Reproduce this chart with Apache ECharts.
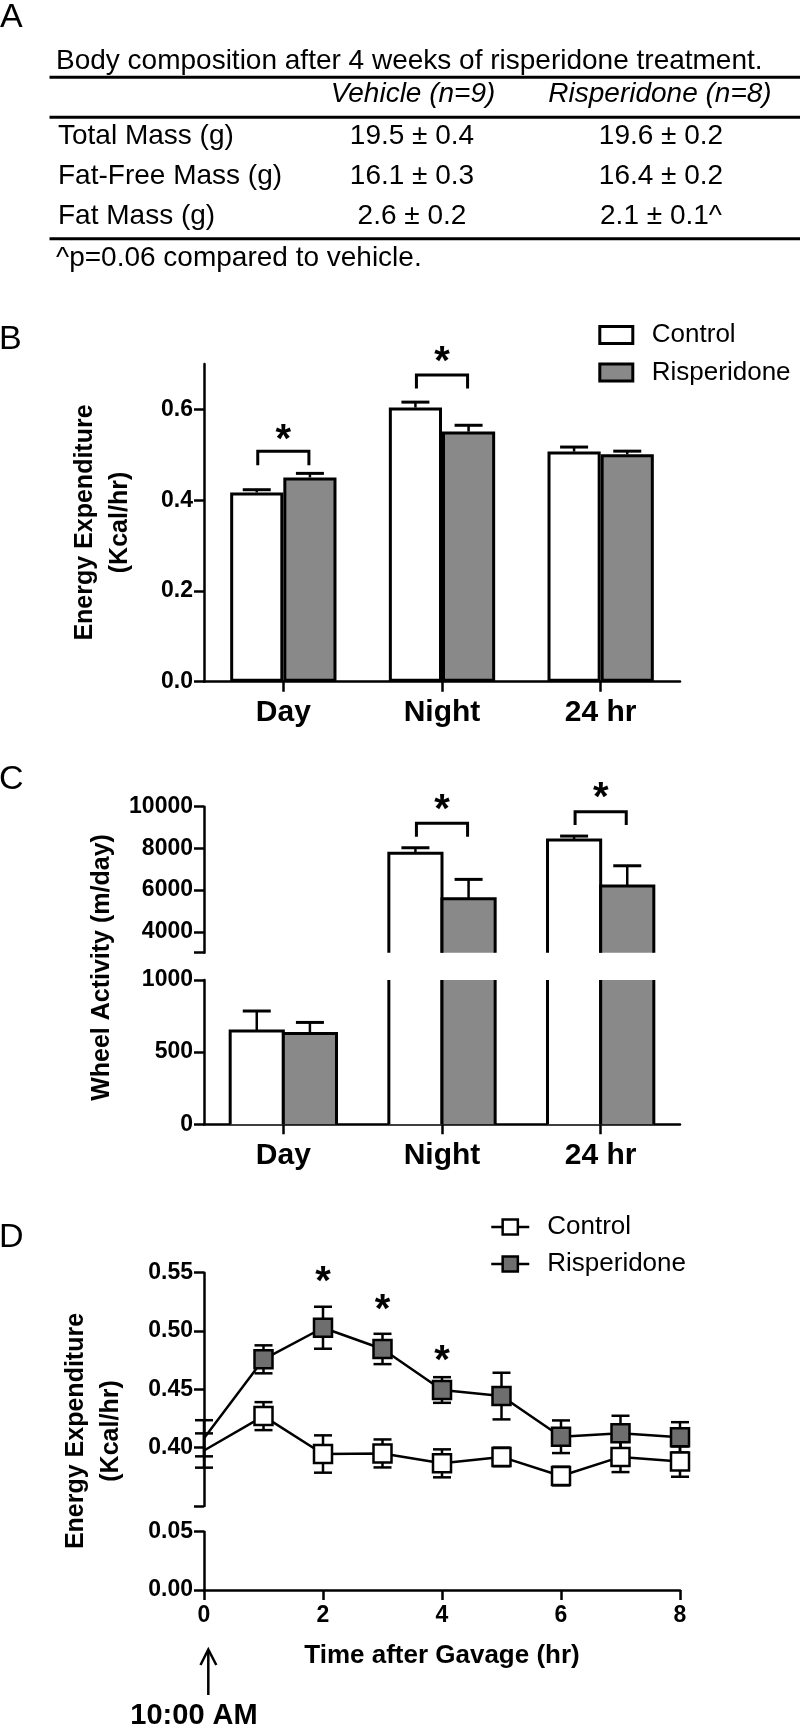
<!DOCTYPE html>
<html>
<head>
<meta charset="utf-8">
<script src="https://cdn.jsdelivr.net/npm/echarts@6/dist/echarts.min.js"></script>
<style>
html,body{margin:0;padding:0;background:#fff;}
#chart{width:800px;height:1728px;}
</style>
</head>
<body>
<div id="chart"></div>
<script>
// ---------------- Panel A: table ----------------
const tableTitle = 'Body composition after 4 weeks of risperidone treatment.';
const tableHeaders = ['Vehicle (n=9)', 'Risperidone (n=8)'];
const tableRowLabels = ['Total Mass (g)', 'Fat-Free Mass (g)', 'Fat Mass (g)'];
const tableVehicle = ['19.5 \u00b1 0.4', '16.1 \u00b1 0.3', '2.6 \u00b1 0.2'];
const tableRisperidone = ['19.6 \u00b1 0.2', '16.4 \u00b1 0.2', '2.1 \u00b1 0.1^'];
const tableFootnote = '^p=0.06 compared to vehicle.';

// ---------------- Panel B: energy expenditure bars ----------------
const periods = ['Day', 'Night', '24 hr'];
const eeControl = [0.417, 0.604, 0.507];
const eeControlSem = [0.006, 0.012, 0.010];
const eeRisp = [0.450, 0.551, 0.501];
const eeRispSem = [0.009, 0.014, 0.007];
const bTicks = [0, 0.2, 0.4, 0.6];
// [category index, bracket top, bracket leg end, asterisk]
const bSig = [[0, 0.508, 0.477, 0.547], [1, 0.6755, 0.646, 0.72]];

// ---------------- Panel C: wheel activity (broken axis) ----------------
const wheelControl = [646, 7763, 8400];
const wheelControlSem = [139, 269, 192];
const wheelRisp = [630, 5585, 6194];
const wheelRispSem = [76, 930, 974];
const cUpperLabels = [4000, 6000, 8000, 10000];
const cUpperTicks = [3000, 4000, 6000, 8000, 10000];
const cLowerTicks = [0, 500, 1000];
const cSig = [[1, 9203, 8560, 10178], [2, 9760, 9122, 10760]];

// ---------------- Panel D: time course ----------------
const hours = [0, 1, 2, 3, 4, 5, 6, 7, 8];
const dControl = [0.3975, 0.427, 0.3945, 0.395, 0.3865, 0.392, 0.3756, 0.392, 0.388];
const dControlSem = [0.0147, 0.012, 0.016, 0.012, 0.012, 0.008, 0.008, 0.013, 0.013];
const dRisp = [0.408, 0.4757, 0.5028, 0.4846, 0.4494, 0.4442, 0.4093, 0.4123, 0.4088];
const dRispSem = [0.0155, 0.012, 0.018, 0.013, 0.011, 0.020, 0.014, 0.015, 0.013];
const dUpperLabels = [0.40, 0.45, 0.50, 0.55];
const dUpperTicks = [0.35, 0.40, 0.45, 0.50, 0.55];
const dLowerTicks = [0, 0.05];
const dXTicks = [0, 2, 4, 6, 8];
const dStars = [[2, 0.548], [3, 0.5244], [4, 0.4803]];

// ---------------- styling ----------------
const FONT = '"Liberation Sans", Arial, Helvetica, sans-serif';
const BLACK = '#000';
const GRAY_BAR = '#898989';
const GRAY_SQ = '#6e6e6e';
const BAR_RATIO = 0.335;
const AXW = 2.5;

const axisLineStyle = { show: true, onZero: false, lineStyle: { color: BLACK, width: AXW } };
const tickStyle = { color: BLACK, width: AXW };
const tickLabel = { color: BLACK, fontFamily: FONT, fontWeight: 'bold', fontSize: 23, margin: 11 };

function yVal(grid, min, max, labels, ticks, fmt) {
  return {
    type: 'value', gridIndex: grid, min: min, max: max,
    axisLine: axisLineStyle,
    axisTick: { show: true, length: 10, customValues: ticks, lineStyle: tickStyle },
    axisLabel: Object.assign({}, tickLabel, { customValues: labels, formatter: fmt }),
    splitLine: { show: false }
  };
}
function xCat(grid, show) {
  return {
    type: 'category', gridIndex: grid, data: periods, boundaryGap: true, show: show,
    axisLine: axisLineStyle,
    axisTick: { show: true, alignWithLabel: true, length: 10, lineStyle: tickStyle },
    axisLabel: { color: BLACK, fontFamily: FONT, fontWeight: 'bold', fontSize: 30, margin: 16 },
    splitLine: { show: false }
  };
}

// error bar (upwards) over a bar, side -1 = left bar, +1 = right bar
function barErr(side) {
  return function (params, api) {
    const cat = api.value(0), v = api.value(1), e = api.value(2);
    const bw = api.size([1, 0])[0] * BAR_RATIO;
    const p = api.coord([cat, v]);
    const cx = p[0] + side * bw / 2;
    const y1 = api.coord([cat, v + e])[1];
    return { type: 'group', children: [
      { type: 'line', shape: { x1: cx, y1: p[1], x2: cx, y2: y1 }, style: { stroke: BLACK, lineWidth: 2.5 } },
      { type: 'line', shape: { x1: cx - 14, y1: y1, x2: cx + 14, y2: y1 }, style: { stroke: BLACK, lineWidth: 3 } }
    ] };
  };
}

// bars for the broken axis: open edge where the bar is cut by the break
function brokenBar(side, fill, lo, hi) {
  return function (params, api) {
    const cat = api.value(0), v = api.value(1), e = api.value(2);
    if (v <= lo) return null;
    const bw = api.size([1, 0])[0] * BAR_RATIO;
    const cx = api.coord([cat, lo])[0] + side * bw / 2;
    const l = cx - bw / 2, r = cx + bw / 2;
    const yb = api.coord([cat, lo])[1];
    const over = v > hi;
    const yt = api.coord([cat, Math.min(v, hi)])[1];
    const ch = [{ type: 'rect', shape: { x: l, y: yt, width: bw, height: yb - yt }, style: { fill: fill, stroke: null } }];
    if (over) {
      ch.push({ type: 'line', shape: { x1: l, y1: yb, x2: l, y2: yt }, style: { stroke: BLACK, lineWidth: 3 } });
      ch.push({ type: 'line', shape: { x1: r, y1: yb, x2: r, y2: yt }, style: { stroke: BLACK, lineWidth: 3 } });
    } else {
      const ye = api.coord([cat, v + e])[1];
      ch.push({ type: 'line', shape: { x1: cx, y1: yt, x2: cx, y2: ye }, style: { stroke: BLACK, lineWidth: 2.5 } });
      ch.push({ type: 'line', shape: { x1: cx - 14, y1: ye, x2: cx + 14, y2: ye }, style: { stroke: BLACK, lineWidth: 3 } });
      ch.push({ type: 'polyline', shape: { points: [[l, yb], [l, yt], [r, yt], [r, yb]] }, style: { stroke: BLACK, lineWidth: 3, fill: null, lineJoin: 'miter' } });
    }
    return { type: 'group', children: ch };
  };
}

function star(x, y) {
  return { type: 'text', x: x, y: y + 8, style: { text: '*', font: 'bold 40px ' + FONT, fill: BLACK,
    align: 'center', verticalAlign: 'middle', textAlign: 'center', textVerticalAlign: 'middle' } };
}

function bracket(params, api) {
  const cat = api.value(0), top = api.value(1), leg = api.value(2), st = api.value(3);
  const bw = api.size([1, 0])[0] * BAR_RATIO;
  const cx = api.coord([cat, top])[0];
  const l = cx - bw / 2 + 1, r = cx + bw / 2 - 1;
  const yt = api.coord([cat, top])[1], yl = api.coord([cat, leg])[1], ys = api.coord([cat, st])[1];
  return { type: 'group', children: [
    { type: 'polyline', shape: { points: [[l, yl], [l, yt], [r, yt], [r, yl]] }, style: { stroke: BLACK, lineWidth: 3, fill: null } },
    star(cx, ys)
  ] };
}

function pointErr(params, api) {
  const t = api.value(0), v = api.value(1), e = api.value(2);
  const x = api.coord([t, v])[0];
  const yh = api.coord([t, v + e])[1], yl = api.coord([t, v - e])[1];
  return { type: 'group', children: [
    { type: 'line', shape: { x1: x, y1: yl, x2: x, y2: yh }, style: { stroke: BLACK, lineWidth: 2.5 } },
    { type: 'line', shape: { x1: x - 9, y1: yh, x2: x + 9, y2: yh }, style: { stroke: BLACK, lineWidth: 2.5 } },
    { type: 'line', shape: { x1: x - 9, y1: yl, x2: x + 9, y2: yl }, style: { stroke: BLACK, lineWidth: 2.5 } }
  ] };
}

function starOnly(params, api) {
  const p = api.coord([api.value(0), api.value(1)]);
  return star(p[0], p[1]);
}

function txt(text, x, y, font, align, extra) {
  return Object.assign({ type: 'text', x: x, y: y, silent: true,
    style: { text: text, font: font, fill: BLACK, align: align, verticalAlign: 'middle',
      textAlign: align, textVerticalAlign: 'middle' } }, extra || {});
}
function hline(y, x1, x2) {
  return { type: 'line', silent: true, shape: { x1: x1, y1: y, x2: x2, y2: y }, style: { stroke: BLACK, lineWidth: 3 } };
}

const F28 = '28px ' + FONT;
const rowMid = [136, 176, 216];
const graphics = [
  txt('A', 0, 18, '34px ' + FONT, 'left'),
  txt('B', -1, 340, '34px ' + FONT, 'left'),
  txt('C', -1, 780, '34px ' + FONT, 'left'),
  txt('D', -1, 1238, '34px ' + FONT, 'left'),
  txt(tableTitle, 56, 61, F28, 'left'),
  hline(77.3, 49.5, 800),
  txt(tableHeaders[0], 413, 94.3, 'italic ' + F28, 'center'),
  txt(tableHeaders[1], 660, 94.3, 'italic ' + F28, 'center'),
  hline(117.3, 49.5, 800),
  hline(238.7, 49.5, 800),
  txt(tableFootnote, 56, 258.6, F28, 'left'),
  txt('Energy Expenditure\n(Kcal/hr)', 103, 522.5, 'bold 25px ' + FONT, 'center', { rotation: Math.PI / 2 }),
  txt('Wheel Activity (m/day)', 102, 967.5, 'bold 25px ' + FONT, 'center', { rotation: Math.PI / 2 }),
  txt('Energy Expenditure\n(Kcal/hr)', 94, 1431, 'bold 25px ' + FONT, 'center', { rotation: Math.PI / 2 }),
  { type: 'line', silent: true, shape: { x1: 208.3, y1: 1695, x2: 208.3, y2: 1650 }, style: { stroke: BLACK, lineWidth: 2.5 } },
  { type: 'polyline', silent: true, shape: { points: [[200.5, 1665], [208.3, 1649.5], [216.3, 1665]] }, style: { stroke: BLACK, lineWidth: 2.5, fill: null } },
  txt('10:00 AM', 194, 1715.7, 'bold 29px ' + FONT, 'center')
];
// rotated multi-line titles need lineHeight
graphics[11].style.lineHeight = 35;
graphics[13].style.lineHeight = 35;
tableRowLabels.forEach((t, i) => {
  graphics.push(txt(t, 58, rowMid[i], F28, 'left'));
  graphics.push(txt(tableVehicle[i], 412, rowMid[i], F28, 'center'));
  graphics.push(txt(tableRisperidone[i], 661, rowMid[i], F28, 'center'));
});

const triple = (vals, sems) => vals.map((v, i) => [i, v, sems[i]]);
const gridBase = { left: 204, width: 476, containLabel: false, outerBoundsMode: 'none' };

const option = {
  animation: false,
  backgroundColor: '#fff',
  textStyle: { fontFamily: FONT, color: BLACK },
  grid: [
    Object.assign({ top: 364, height: 317.7 }, gridBase),
    Object.assign({ top: 806.7, height: 146 }, gridBase),
    Object.assign({ top: 980, height: 144.3 }, gridBase),
    Object.assign({ top: 1272.7, height: 233.2 }, gridBase),
    Object.assign({ top: 1531.7, height: 58.3 }, gridBase)
  ],
  xAxis: [
    xCat(0, true),
    xCat(1, false),
    xCat(2, true),
    { type: 'value', gridIndex: 3, min: 0, max: 8, show: false },
    { type: 'value', gridIndex: 4, min: 0, max: 8, interval: 2,
      axisLine: axisLineStyle,
      axisTick: { show: true, length: 10, customValues: dXTicks, lineStyle: tickStyle },
      axisLabel: Object.assign({}, tickLabel, { margin: 14, customValues: dXTicks }),
      splitLine: { show: false },
      name: 'Time after Gavage (hr)', nameLocation: 'middle', nameGap: 53,
      nameTextStyle: { color: BLACK, fontFamily: FONT, fontWeight: 'bold', fontSize: 26 } }
  ],
  yAxis: [
    yVal(0, 0, 0.7, bTicks, bTicks, v => v.toFixed(1)),
    yVal(1, 3000, 10000, cUpperLabels, cUpperTicks, v => String(Math.round(v))),
    yVal(2, 0, 1000, cLowerTicks, cLowerTicks, v => String(Math.round(v))),
    yVal(3, 0.35, 0.55, dUpperLabels, dUpperTicks, v => v.toFixed(2)),
    yVal(4, 0, 0.05, dLowerTicks, dLowerTicks, v => v.toFixed(2))
  ],
  legend: [
    { data: ['Control', 'Risperidone'], orient: 'vertical', left: 593.3, top: 317,
      itemWidth: 33, itemHeight: 17, itemGap: 11.5, icon: 'rect', selectedMode: false,
      itemStyle: { borderColor: BLACK, borderWidth: 3 },
      textStyle: { fontSize: 26, fontFamily: FONT, color: BLACK, padding: [0, 0, 0, 14] } },
    { data: ['D-Control', 'D-Risperidone'], formatter: n => n.slice(2), orient: 'vertical', left: 485, top: 1209,
      itemWidth: 38, itemHeight: 19, itemGap: 11, selectedMode: false,
      itemStyle: { borderColor: BLACK, borderWidth: 2.5 },
      lineStyle: { color: BLACK, width: 2.5 },
      textStyle: { fontSize: 26, fontFamily: FONT, color: BLACK, padding: [0, 0, 0, 13] } }
  ],
  graphic: { elements: graphics },
  series: [
    // Panel B
    { type: 'bar', name: 'Control', xAxisIndex: 0, yAxisIndex: 0, data: eeControl,
      barWidth: (BAR_RATIO * 100) + '%', barGap: '0%', z: 2,
      itemStyle: { color: '#fff', borderColor: BLACK, borderWidth: 3 } },
    { type: 'bar', name: 'Risperidone', xAxisIndex: 0, yAxisIndex: 0, data: eeRisp,
      barWidth: (BAR_RATIO * 100) + '%', barGap: '0%', z: 2,
      itemStyle: { color: GRAY_BAR, borderColor: BLACK, borderWidth: 3 } },
    { type: 'custom', xAxisIndex: 0, yAxisIndex: 0, z: 3, renderItem: barErr(-1), data: triple(eeControl, eeControlSem), encode: { x: 0, y: 1 } },
    { type: 'custom', xAxisIndex: 0, yAxisIndex: 0, z: 3, renderItem: barErr(1), data: triple(eeRisp, eeRispSem), encode: { x: 0, y: 1 } },
    { type: 'custom', xAxisIndex: 0, yAxisIndex: 0, z: 3, renderItem: bracket, data: bSig, encode: { x: 0, y: 1 } },
    // Panel C upper
    { type: 'custom', name: 'C-Control-up', xAxisIndex: 1, yAxisIndex: 1, renderItem: brokenBar(-1, '#fff', 3000, 10000), data: triple(wheelControl, wheelControlSem), encode: { x: 0, y: 1 } },
    { type: 'custom', name: 'C-Risp-up', xAxisIndex: 1, yAxisIndex: 1, renderItem: brokenBar(1, GRAY_BAR, 3000, 10000), data: triple(wheelRisp, wheelRispSem), encode: { x: 0, y: 1 } },
    { type: 'custom', xAxisIndex: 1, yAxisIndex: 1, z: 3, renderItem: bracket, data: cSig, encode: { x: 0, y: 1 } },
    // Panel C lower
    { type: 'custom', name: 'C-Control-low', xAxisIndex: 2, yAxisIndex: 2, renderItem: brokenBar(-1, '#fff', 0, 1000), data: triple(wheelControl, wheelControlSem), encode: { x: 0, y: 1 } },
    { type: 'custom', name: 'C-Risp-low', xAxisIndex: 2, yAxisIndex: 2, renderItem: brokenBar(1, GRAY_BAR, 0, 1000), data: triple(wheelRisp, wheelRispSem), encode: { x: 0, y: 1 } },
    // Panel D
    { type: 'custom', xAxisIndex: 3, yAxisIndex: 3, z: 2, renderItem: pointErr, data: hours.map((h, i) => [h, dControl[i], dControlSem[i]]), encode: { x: 0, y: 1 } },
    { type: 'custom', xAxisIndex: 3, yAxisIndex: 3, z: 2, renderItem: pointErr, data: hours.map((h, i) => [h, dRisp[i], dRispSem[i]]), encode: { x: 0, y: 1 } },
    { type: 'line', name: 'D-Control', xAxisIndex: 3, yAxisIndex: 3, z: 3, clip: false,
      data: hours.map((h, i) => i === 0 ? { value: [h, dControl[i]], symbol: 'none' } : [h, dControl[i]]),
      symbol: 'rect', symbolSize: 18, lineStyle: { color: BLACK, width: 2.5 },
      itemStyle: { color: '#fff', borderColor: BLACK, borderWidth: 2.5 }, emphasis: { disabled: true } },
    { type: 'line', name: 'D-Risperidone', xAxisIndex: 3, yAxisIndex: 3, z: 4, clip: false,
      data: hours.map((h, i) => i === 0 ? { value: [h, dRisp[i]], symbol: 'none' } : [h, dRisp[i]]),
      symbol: 'rect', symbolSize: 18, lineStyle: { color: BLACK, width: 2.5 },
      itemStyle: { color: GRAY_SQ, borderColor: BLACK, borderWidth: 2.5 }, emphasis: { disabled: true } },
    { type: 'custom', xAxisIndex: 3, yAxisIndex: 3, z: 5, renderItem: starOnly, data: dStars, encode: { x: 0, y: 1 } }
  ]
};

const chart = echarts.init(document.getElementById('chart'), null, { renderer: 'canvas' });
chart.setOption(option);
</script>
</body>
</html>
